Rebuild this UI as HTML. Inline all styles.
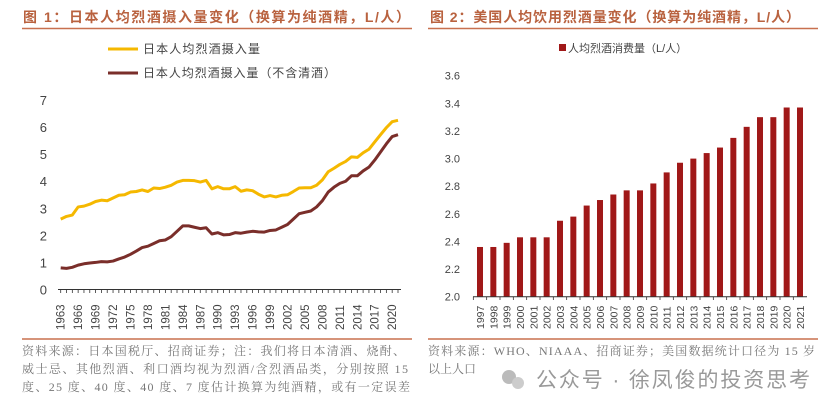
<!DOCTYPE html>
<html><head><meta charset="utf-8"><style>
body{margin:0;background:#fff;width:835px;height:412px;overflow:hidden;font-family:"Liberation Sans","Noto Sans CJK SC",sans-serif}
svg{position:absolute;left:0;top:0}
</style></head><body>
<svg width="835" height="412">
<g font-family="'Liberation Sans','Noto Sans CJK SC',sans-serif">
<text x="23" y="22" font-size="14" font-weight="bold" fill="#b9623f" textLength="387" lengthAdjust="spacing">图 1：日本人均烈酒摄入量变化（换算为纯酒精，L/人）</text>
<line x1="22" y1="28.5" x2="412" y2="28.5" stroke="#c8704f" stroke-width="1.5"/>
<text x="430" y="22" font-size="14" font-weight="bold" fill="#b9623f" textLength="370" lengthAdjust="spacing">图 2：美国人均饮用烈酒量变化（换算为纯酒精，L/人）</text>
<line x1="428" y1="28.5" x2="818" y2="28.5" stroke="#c8704f" stroke-width="1.5"/>
<line x1="22" y1="339" x2="412" y2="339" stroke="#c8704f" stroke-width="1.5"/>
<line x1="428" y1="339" x2="818" y2="339" stroke="#c8704f" stroke-width="1.5"/>
<g font-size="12" fill="#777" font-family="'Liberation Serif','Noto Serif CJK SC',serif">
<text x="22" y="355" textLength="383" lengthAdjust="spacing">资料来源：日本国税厅、招商证券；注：我们将日本清酒、烧酎、</text>
<text x="22" y="373" textLength="386" lengthAdjust="spacing">威士忌、其他烈酒、利口酒均视为烈酒/含烈酒品类，分别按照 15</text>
<text x="22" y="391" textLength="388" lengthAdjust="spacing">度、25 度、40 度、40 度、7 度估计换算为纯酒精，或有一定误差</text>
</g>
<g font-size="12" fill="#777" font-family="'Liberation Serif','Noto Serif CJK SC',serif">
<text x="428" y="355" textLength="387" lengthAdjust="spacing">资料来源：WHO、NIAAA、招商证券；美国数据统计口径为 15 岁</text>
<text x="428" y="373">以上人口</text>
</g>
<g>
<circle cx="509" cy="377" r="7" fill="#bbb"/><circle cx="518" cy="383" r="6" fill="#ccc"/>
<text x="536" y="387" font-size="21" fill="#999" textLength="274" lengthAdjust="spacing">公众号 · 徐凤俊的投资思考</text>
</g>
<line x1="108" y1="49" x2="138" y2="49" stroke="#f5b800" stroke-width="3"/>
<text x="143" y="53" font-size="12" fill="#444" textLength="117" lengthAdjust="spacing">日本人均烈酒摄入量</text>
<line x1="108" y1="73" x2="138" y2="73" stroke="#7a2e2a" stroke-width="3"/>
<text x="143" y="77" font-size="12" fill="#444" textLength="193" lengthAdjust="spacing">日本人均烈酒摄入量（不含清酒）</text>
<rect x="559" y="44" width="7" height="7" fill="#a01818"/>
<text x="568" y="52" font-size="11" fill="#444">人均烈酒消费量（L/人）</text>
<g id="left"></g><g id="right"></g>
</g>
</svg>
<script>
const years=[];for(let y=1963;y<=2021;y++)years.push(y);
const totalVals=[2.6,2.7,2.75,3.05,3.08,3.15,3.25,3.3,3.28,3.38,3.48,3.5,3.6,3.62,3.68,3.62,3.75,3.73,3.78,3.85,3.97,4.03,4.03,4.02,3.97,4.03,3.72,3.8,3.72,3.72,3.8,3.63,3.68,3.65,3.52,3.42,3.47,3.42,3.48,3.5,3.62,3.75,3.76,3.76,3.85,4.05,4.35,4.48,4.62,4.73,4.9,4.88,5.05,5.18,5.45,5.72,5.98,6.2,6.25];
const exclVals=[0.8,0.78,0.82,0.9,0.95,0.98,1.0,1.03,1.02,1.05,1.13,1.2,1.3,1.42,1.55,1.6,1.7,1.8,1.83,1.95,2.15,2.35,2.35,2.3,2.25,2.28,2.05,2.1,2.02,2.03,2.1,2.08,2.12,2.15,2.13,2.12,2.18,2.2,2.3,2.4,2.6,2.8,2.85,2.9,3.05,3.28,3.6,3.78,3.92,4.0,4.2,4.2,4.38,4.52,4.78,5.08,5.38,5.65,5.72];
const leftTicks=[0,1,2,3,4,5,6,7];
const usYears=[];for(let y=1997;y<=2021;y++)usYears.push(y);
const usVals=[2.36,2.36,2.39,2.43,2.43,2.43,2.55,2.58,2.66,2.70,2.74,2.77,2.77,2.82,2.90,2.97,3.00,3.04,3.08,3.15,3.23,3.30,3.30,3.37,3.37];
const rightTicks=["2.0","2.2","2.4","2.6","2.8","3.0","3.2","3.4","3.6"];
const NS="http://www.w3.org/2000/svg";
function mk(p,t,a){const e=document.createElementNS(NS,t);for(const k in a)e.setAttribute(k,a[k]);p.appendChild(e);return e;}
const L=document.getElementById('left');
const lx=i=>60.7+i*(398-60.7)/(years.length-1);
const ly=v=>289.5-v*27.07;
leftTicks.forEach(t=>{const e=mk(L,'text',{x:47,y:ly(t)+5,'font-size':13,fill:'#444','text-anchor':'end'});e.textContent=t;

});
const ax=mk(L,'line',{x1:58,y1:289.5,x2:401,y2:289.5,stroke:'#333','stroke-width':1});


years.forEach((y,i)=>{mk(L,'line',{x1:lx(i),y1:289.5,x2:lx(i),y2:293,stroke:'#333','stroke-width':0.8});
if((y-1963)%3===0){const e=mk(L,'text',{transform:`translate(${lx(i)+4},330) rotate(-90)`,'font-size':11.5,fill:'#444'});e.textContent=y;

}});
[[totalVals,'#f5b800','total-line'],[exclVals,'#7a2e2a','excl-sake-line']].forEach(([vals,c,n])=>{
const p=mk(L,'polyline',{points:vals.map((v,i)=>lx(i)+','+ly(v)).join(' '),fill:'none',stroke:c,'stroke-width':3,'stroke-linejoin':'round'});

});
const R=document.getElementById('right');
const rx=i=>480+i*(800-480)/(usYears.length-1);
const ry=v=>296.7-(v-2)*138.1;
rightTicks.forEach(t=>{const e=mk(R,'text',{x:460,y:ry(+t)+4,'font-size':11,fill:'#444','text-anchor':'end'});e.textContent=t;

});
usVals.forEach((v,i)=>{const b=mk(R,'rect',{x:rx(i)-3,y:ry(v),width:6,height:ry(2)-ry(v),fill:'#a01818'});

});
const ax2=mk(R,'line',{x1:473,y1:296.7,x2:807,y2:296.7,stroke:'#333','stroke-width':1});


usYears.forEach((y,i)=>{mk(R,'line',{x1:rx(i)-6.67,y1:296.7,x2:rx(i)-6.67,y2:300,stroke:'#333','stroke-width':0.8});
const e=mk(R,'text',{transform:`translate(${rx(i)+4},329) rotate(-90)`,'font-size':10.5,fill:'#444'});e.textContent=y;

});
</script>
</body></html>
